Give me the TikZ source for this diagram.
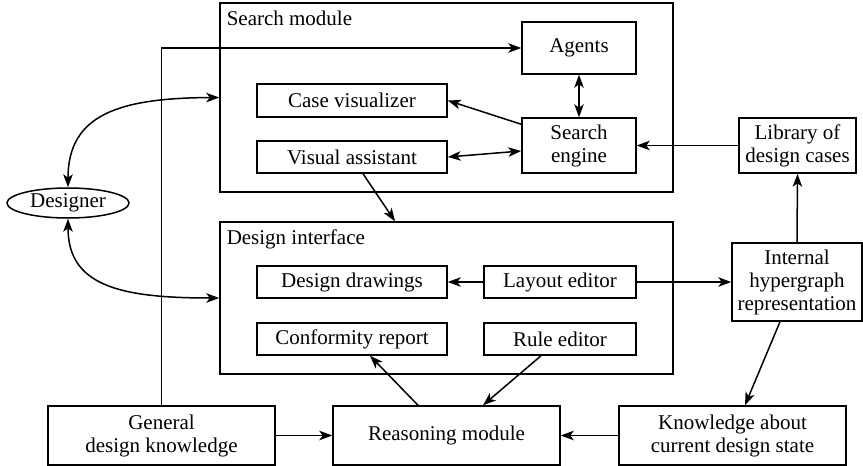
\documentclass[tikz,border=0pt]{standalone}
\usepackage{fontspec}
\setmainfont{Liberation Serif}
\usetikzlibrary{arrows.meta,shapes.geometric,calc}
\begin{document}
\begin{tikzpicture}[x=1pt,y=-1pt,
  font=\fontsize{21}{23}\selectfont,
  line width=1.5pt,
  tip/.tip={Stealth[length=13pt,width=9.5pt,inset=3.5pt]},
  conn/.style={-{tip}},
  biconn/.style={{tip}-{tip}},
  box/.style={draw,rectangle,inner sep=0pt,align=center},
  frame/.style={draw,rectangle,inner sep=0pt},
  title/.style={anchor=base west,inner sep=0pt}]
\useasboundingbox (0,0) rectangle (863,466);
% containers
\node[frame,minimum width=453pt,minimum height=189pt] (sm) at (446.5,97.5) {};
\node[title] (smt) at (226,25) {Search module};
\node[frame,minimum width=453pt,minimum height=152pt] (di) at (446.5,298) {};
\node[title] (dit) at (226,244) {Design interface};
% nodes
\node[box,minimum width=114pt,minimum height=52pt] (agents) at (579,48) {Agents};
\node[box,minimum width=114pt,minimum height=55pt] (se) at (579,145.5) {Search\\engine};
\node[box,minimum width=190pt,minimum height=33pt] (cv) at (352,100.5) {Case visualizer};
\node[box,minimum width=190pt,minimum height=32pt] (va) at (352,157) {Visual assistant};
\node[box,minimum width=117pt,minimum height=55pt] (lib) at (797.5,145.5) {Library of\\design cases};
\node[box,minimum width=190pt,minimum height=32pt] (dd) at (352,282) {Design drawings};
\node[box,minimum width=152pt,minimum height=32pt] (le) at (560,282) {Layout editor};
\node[box,minimum width=190pt,minimum height=32pt] (cr) at (352,339) {Conformity report};
\node[box,minimum width=152pt,minimum height=32pt] (re) at (560,339) {Rule editor};
\node[box,minimum width=130pt,minimum height=78pt] (ih) at (797,282) {Internal\\hypergraph\\representation};
\node[box,minimum width=227pt,minimum height=59pt] (gdk) at (161.5,435.5) {General\\design knowledge};
\node[box,minimum width=227pt,minimum height=59pt] (rm) at (446.5,435.5) {Reasoning module};
\node[box,minimum width=227pt,minimum height=59pt] (kn) at (732.5,435.5) {Knowledge about\\current design state};
\node[draw,ellipse,inner sep=0pt,minimum width=122pt,minimum height=30pt] (des) at (68,203) {Designer};
% connectors
\draw[conn] (gdk.north) |- (agents.west);
\draw[biconn] (des.north) .. controls (68,115) and (118,98) .. (sm.west);
\draw[biconn] (des.south) .. controls (68,285) and (118,298) .. (di.west);
\draw[biconn] (agents.south) -- (se.north);
\draw[conn] ($(se.north west)+(0,7)$) -- (cv.east);
\draw[biconn] (va.east) -- ($(se.west)+(0,5.5)$);
\draw[conn] ($(va.south)+(11,0)$) -- ($(di.north)+(-51.5,0)$);
\draw[conn] (lib.west) -- (se.east);
\draw[conn] (ih.north) -- (lib.south);
\draw[conn] (le.west) -- (dd.east);
\draw[conn] (le.east) -- (ih.west);
\draw[conn] ($(ih.south)+(-17,0)$) -- ($(kn.north)+(12.5,0)$);
\draw[conn] ($(re.south)+(-19,0)$) -- ($(rm.north)+(36.5,0)$);
\draw[conn] ($(rm.north)+(-28.5,0)$) -- ($(cr.south)+(18,0)$);
\draw[conn] (gdk.east) -- (rm.west);
\draw[conn] (kn.west) -- (rm.east);
\end{tikzpicture}
\end{document}
